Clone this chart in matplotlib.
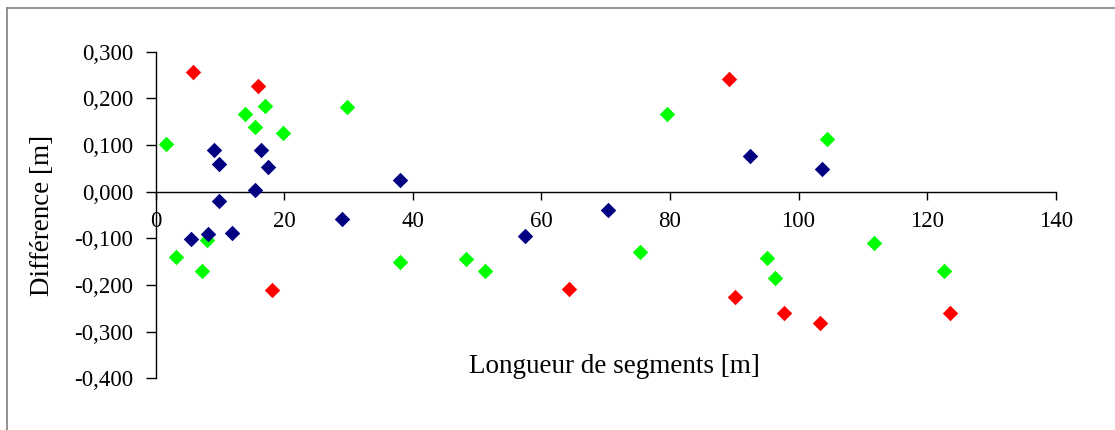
import matplotlib.pyplot as plt
from matplotlib.ticker import FuncFormatter, MultipleLocator
from matplotlib.lines import Line2D

# series (x = segment length [m], y = difference [m])
red_x = [5.8, 15.9, 18.1, 64.3, 89.2, 90.1, 97.8, 103.3, 123.6]
red_y = [0.256, 0.227, -0.211, -0.209, 0.242, -0.226, -0.259, -0.282, -0.261]

green_x = [1.6, 3.1, 7.2, 8.0, 13.9, 15.4, 17.0, 19.8, 29.8, 38.0, 48.2, 51.2,
           75.3, 79.6, 95.1, 96.3, 104.5, 111.8, 122.7]
green_y = [0.102, -0.139, -0.170, -0.104, 0.166, 0.139, 0.184, 0.126, 0.182,
           -0.151, -0.144, -0.171, -0.129, 0.167, -0.142, -0.186, 0.114,
           -0.111, -0.169]

navy_x = [5.5, 8.1, 9.0, 9.8, 9.9, 11.9, 15.4, 16.4, 17.5, 29.0, 38.0, 57.4,
          70.3, 92.4, 103.6]
navy_y = [-0.101, -0.091, 0.089, 0.059, -0.021, -0.088, 0.003, 0.089, 0.052,
          -0.059, 0.025, -0.095, -0.039, 0.077, 0.049]

plt.rcParams['font.family'] = ['Liberation Serif', 'DejaVu Serif']

fig = plt.figure(figsize=(11.15, 4.30), dpi=100)
ax = fig.add_axes([0.1396, 0.1202, 0.8072, 0.7595])

ax.set_xlim(0, 140)
ax.set_ylim(-0.4, 0.3)
ax.xaxis.set_major_locator(MultipleLocator(20))
ax.yaxis.set_major_locator(MultipleLocator(0.1))
ax.yaxis.set_major_formatter(FuncFormatter(lambda v, p: f'{v:.3f}'.replace('.', ',')))

ax.yaxis.grid(True, color='#7a7a7a', linewidth=1.0)
ax.set_axisbelow(True)
for g in ax.get_ygridlines():
    yv = g.get_ydata()[0]
    if abs(yv - 0.3) < 1e-6 or abs(yv + 0.4) < 1e-6 or abs(yv) < 1e-6:
        g.set_visible(False)

ax.spines['top'].set_visible(False)
ax.spines['right'].set_visible(False)
ax.spines['bottom'].set_position(('data', 0))
for s in ('left', 'bottom'):
    ax.spines[s].set_color('black')
    ax.spines[s].set_linewidth(1.0)

ax.tick_params(axis='y', direction='out', length=7, width=1, pad=9, labelsize=16.5)
ax.tick_params(axis='x', direction='out', length=6, width=1, pad=8, labelsize=16.5)

for xs, ys, c in [(red_x, red_y, '#FF0000'), (green_x, green_y, '#00FF00'),
                  (navy_x, navy_y, '#000080')]:
    ax.scatter(xs, ys, marker='D', s=62, color=c, linewidths=0, zorder=3, clip_on=False)

ax.set_xlabel('Longueur de segments [m]', fontsize=19.5)
ax.xaxis.set_label_coords(0.51, 0.035)
ax.xaxis.label.set_va('center')
ax.set_ylabel('Différence [m]', fontsize=19.5)
ax.yaxis.set_label_coords(-0.126, 0.5)
ax.yaxis.label.set_va('center')

# chart frame (top and left edges visible in the reference)
fig.add_artist(Line2D([7 / 1115, 1.0], [1 - 8 / 430, 1 - 8 / 430], color='#808080', lw=1.2))
fig.add_artist(Line2D([7 / 1115, 7 / 1115], [0, 1 - 8 / 430], color='#808080', lw=1.2))

fig.savefig('out.png', dpi=100)
